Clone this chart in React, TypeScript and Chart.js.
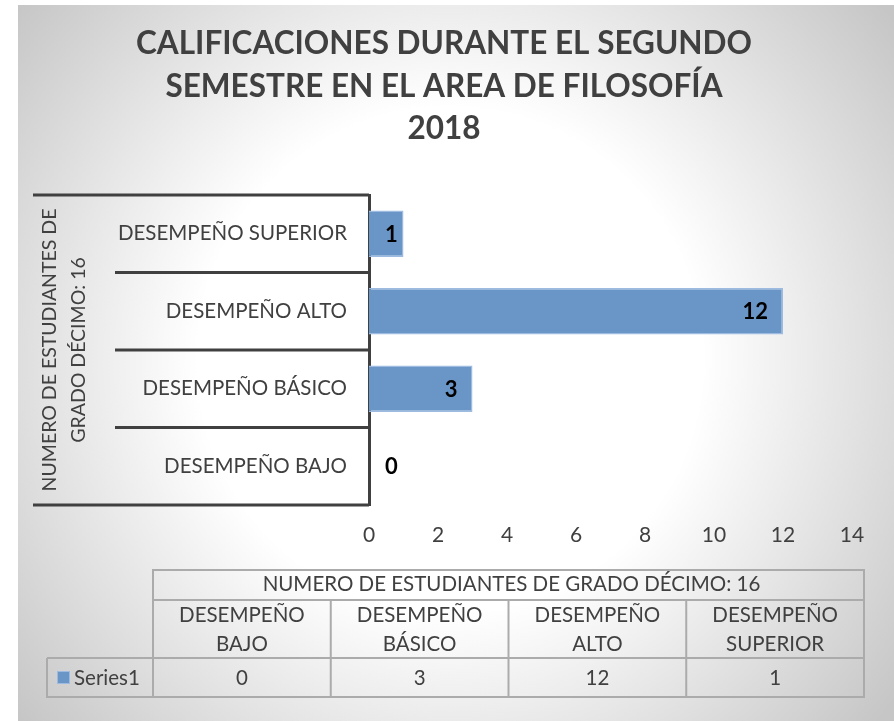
import React, { useEffect, useRef } from 'react';
import { Chart, registerables } from 'chart.js';

Chart.register(...registerables);

// ---------- data ----------
const categories = ['DESEMPEÑO BAJO', 'DESEMPEÑO BÁSICO', 'DESEMPEÑO ALTO', 'DESEMPEÑO SUPERIOR'];
const values = [0, 3, 12, 1];
const seriesName = 'Series1';
const groupLabel = 'NUMERO DE ESTUDIANTES DE GRADO DÉCIMO: 16';
const groupLabelLines = ['NUMERO DE ESTUDIANTES DE', 'GRADO DÉCIMO: 16'];
const titleLines = ['CALIFICACIONES DURANTE EL SEGUNDO', 'SEMESTRE EN EL AREA DE FILOSOFÍA', '2018'];
const xMin = 0;
const xMax = 14;
const xStep = 2;

// ---------- style ----------
const FONT = 'Lato, "Open Sans", sans-serif';
const TEXT = '#404040';
const BAR = '#6995C7';
const BAR_BORDER = '#9DBBE0';
const W = 894;
const H = 721;

const decorPlugin = {
  id: 'decor',
  beforeDraw(chart: any) {
    const ctx = chart.ctx as CanvasRenderingContext2D;
    ctx.save();
    ctx.fillStyle = '#ffffff';
    ctx.fillRect(0, 0, W, H);
    const cx = 450, cy = 360, R = 560;
    const g = ctx.createRadialGradient(cx, cy, 0, cx, cy, R);
    g.addColorStop(0, '#ffffff');
    g.addColorStop(0.45, '#ffffff');
    g.addColorStop(1, '#c6c6c6');
    ctx.fillStyle = g;
    ctx.fillRect(18, 5, W - 18, H - 5);

    // title
    ctx.fillStyle = TEXT;
    ctx.font = `bold 31.5px ${FONT}`;
    ctx.textAlign = 'center';
    ctx.textBaseline = 'middle';
    const titleY = [44, 87, 129];
    titleLines.forEach((t, i) => ctx.fillText(t, 444, titleY[i]));

    // multi-level category box
    const area = chart.chartArea;
    const yScale = chart.scales.y;
    const n = categories.length;
    const band = (area.bottom - area.top) / n;
    ctx.strokeStyle = TEXT;
    ctx.lineWidth = 3;
    ctx.beginPath();
    ctx.moveTo(33, area.top);
    ctx.lineTo(area.left, area.top);
    ctx.moveTo(33, area.bottom);
    ctx.lineTo(area.left, area.bottom);
    for (let i = 1; i < n; i++) {
      const y = area.top + band * i;
      ctx.moveTo(115, y);
      ctx.lineTo(area.left, y);
    }
    ctx.stroke();

    // rotated group label
    const midY = (yScale.top + yScale.bottom) / 2;
    ctx.font = `19.5px ${FONT}`;
    ctx.fillStyle = TEXT;
    const lx = [50, 79];
    groupLabelLines.forEach((t, i) => {
      ctx.save();
      ctx.translate(lx[i], midY);
      ctx.rotate(-Math.PI / 2);
      ctx.textAlign = 'center';
      ctx.textBaseline = 'middle';
      ctx.fillText(t, 0, 0);
      ctx.restore();
    });

    // data table
    const tL = 153, tR = 864, legL = 47;
    const r0 = 570, r1 = 600, r2 = 658, r3 = 697;
    const colW = (tR - tL) / n;
    ctx.strokeStyle = '#ababab';
    ctx.lineWidth = 2;
    ctx.beginPath();
    ctx.rect(tL, r0, tR - tL, r3 - r0);
    ctx.moveTo(tL, r1); ctx.lineTo(tR, r1);
    ctx.moveTo(legL, r2); ctx.lineTo(tR, r2);
    ctx.moveTo(legL, r2); ctx.lineTo(legL, r3); ctx.lineTo(tL, r3);
    for (let i = 1; i < n; i++) {
      const x = tL + colW * i;
      ctx.moveTo(x, r1); ctx.lineTo(x, r3);
    }
    ctx.stroke();

    ctx.fillStyle = TEXT;
    ctx.font = `20.5px ${FONT}`;
    ctx.textAlign = 'center';
    ctx.textBaseline = 'middle';
    ctx.fillText(groupLabel, (tL + tR) / 2 + 3, 584);
    categories.forEach((c, i) => {
      const cxI = tL + colW * (i + 0.5);
      const sp = c.indexOf(' ');
      ctx.fillText(c.slice(0, sp), cxI, 615);
      ctx.fillText(c.slice(sp + 1), cxI, 644);
      ctx.fillText(String(values[i]), cxI, 678);
    });
    // legend key
    ctx.fillStyle = BAR;
    ctx.fillRect(57, 671, 12, 12);
    ctx.strokeStyle = BAR_BORDER;
    ctx.lineWidth = 1;
    ctx.strokeRect(57.5, 671.5, 12, 12);
    ctx.fillStyle = TEXT;
    ctx.textAlign = 'left';
    ctx.fillText(seriesName, 74, 678);
    ctx.restore();
  },
  afterDatasetsDraw(chart: any) {
    const ctx = chart.ctx as CanvasRenderingContext2D;
    const meta = chart.getDatasetMeta(0);
    ctx.save();
    ctx.font = `bold 22px ${FONT}`;
    ctx.fillStyle = '#000000';
    ctx.textBaseline = 'middle';
    ctx.textAlign = 'left';
    meta.data.forEach((el: any, i: number) => {
      const txt = String(values[i]);
      const w = ctx.measureText(txt).width;
      let left = el.x - 15 - w;
      if (left < el.base + 16) left = el.base + 16;
      ctx.fillText(txt, left, el.y + 1);
    });
    ctx.restore();
  },
};

export default function App() {
  const ref = useRef<HTMLCanvasElement | null>(null);
  useEffect(() => {
    if (!ref.current) return;
    const chart = new Chart(ref.current, {
      type: 'bar',
      data: {
        labels: categories,
        datasets: [
          {
            label: seriesName,
            data: values,
            backgroundColor: BAR,
            borderColor: BAR_BORDER,
            borderWidth: 1.5,
            categoryPercentage: 1,
            barPercentage: 0.6,
          },
        ],
      },
      options: {
        responsive: false,
        animation: false,
        indexAxis: 'y',
        layout: { padding: { left: 0, top: 195, right: 42, bottom: 156 } },
        plugins: { legend: { display: false }, tooltip: { enabled: false }, title: { display: false } },
        scales: {
          x: {
            min: xMin,
            max: xMax,
            ticks: { stepSize: xStep, color: TEXT, font: { family: FONT, size: 21 }, padding: 18 },
            grid: { display: false, drawTicks: false },
            border: { display: false },
            afterFit: (s: any) => { s.height = 60; },
          },
          y: {
            reverse: true,
            ticks: { color: TEXT, font: { family: FONT, size: 20.5 }, padding: 22 },
            grid: { display: false, drawTicks: false },
            border: { display: true, color: TEXT, width: 3 },
            afterFit: (s: any) => { s.width = 369; },
          },
        },
      } as any,
      plugins: [decorPlugin],
    });
    return () => chart.destroy();
  }, []);
  return (
    <div style={{ position: 'absolute', left: 0, top: 0, width: W, height: H }}>
      <canvas ref={ref} width={W} height={H} style={{ display: 'block', width: W, height: H }} />
    </div>
  );
}
